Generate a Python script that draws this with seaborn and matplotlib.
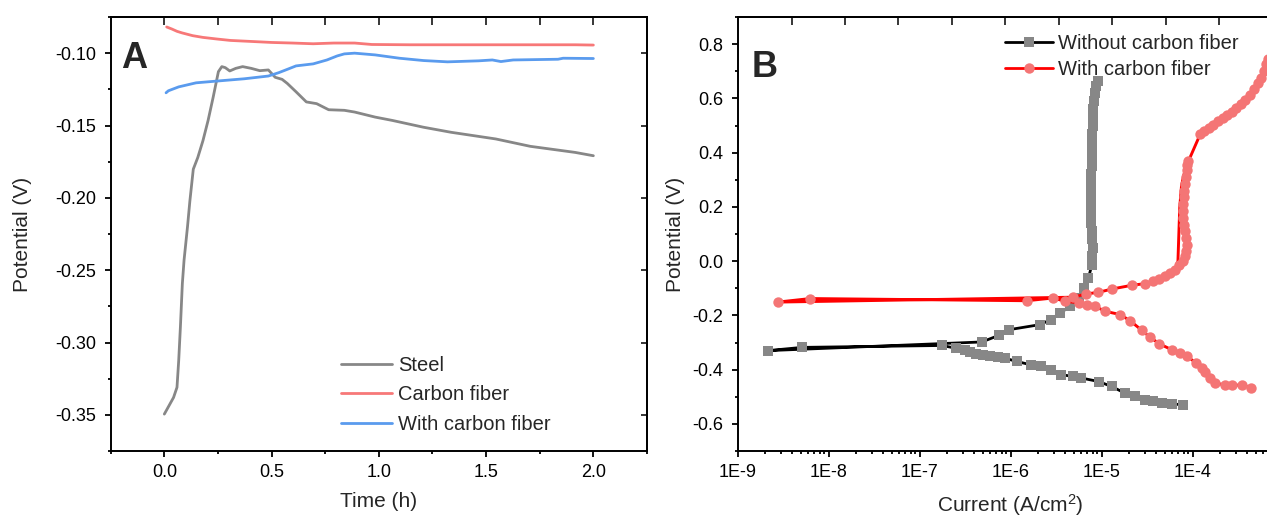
import numpy as np
import matplotlib
matplotlib.use("Agg")
import matplotlib.pyplot as plt
from matplotlib.lines import Line2D
from matplotlib.ticker import MultipleLocator, FixedLocator, LogLocator, FuncFormatter, FormatStrFormatter, NullLocator
import seaborn as sns

# ---- panel A: potential vs time ----
steel_t = [0.0, 0.043, 0.059, 0.067, 0.075, 0.084, 0.092, 0.108, 0.119, 0.135,
           0.156, 0.180, 0.204, 0.228, 0.252, 0.268, 0.284, 0.305, 0.333, 0.365,
           0.405, 0.445, 0.485, 0.517, 0.549, 0.573, 0.614, 0.662, 0.710, 0.766,
           0.839, 0.887, 0.983, 1.063, 1.208, 1.337, 1.545, 1.706, 1.915, 2.0]
steel_v = [-0.3495, -0.338, -0.331, -0.3125, -0.289, -0.2593, -0.243, -0.220, -0.2023, -0.1802,
           -0.1721, -0.1605, -0.1465, -0.1302, -0.1128, -0.1093, -0.110, -0.1123, -0.1105, -0.1093,
           -0.1105, -0.1121, -0.1116, -0.1167, -0.1181, -0.1209, -0.1267, -0.1337, -0.1349, -0.1391,
           -0.1395, -0.1407, -0.1442, -0.1465, -0.1512, -0.1547, -0.1593, -0.1644, -0.1686, -0.1709]

cf_t = [0.011, 0.035, 0.059, 0.083, 0.132, 0.180, 0.244, 0.308, 0.405, 0.501,
        0.598, 0.694, 0.790, 0.887, 0.967, 1.144, 1.304, 1.626, 1.915, 2.0]
cf_v = [-0.0819, -0.0833, -0.0849, -0.0860, -0.0879, -0.0891, -0.0902, -0.0912, -0.0919, -0.0926,
        -0.0930, -0.0935, -0.0930, -0.0930, -0.0940, -0.0942, -0.0942, -0.0942, -0.0942, -0.0944]

wcf_t = [0.008, 0.019, 0.067, 0.148, 0.260, 0.373, 0.485, 0.533, 0.573, 0.614,
         0.694, 0.758, 0.806, 0.839, 0.887, 0.983, 1.096, 1.208, 1.320, 1.465,
         1.529, 1.569, 1.626, 1.835, 1.859, 2.0]
wcf_v = [-0.1274, -0.1260, -0.1233, -0.1205, -0.1191, -0.1177, -0.1158, -0.1135, -0.1112, -0.1088,
         -0.1074, -0.1047, -0.1019, -0.1005, -0.1000, -0.1012, -0.1035, -0.1051, -0.1060, -0.1053,
         -0.1047, -0.1058, -0.1047, -0.1042, -0.1035, -0.1037]

a_labels = ["Steel", "Carbon fiber", "With carbon fiber"]

# ---- panel B: polarization curves (log10 of current density, potential) ----
without_logi = [-4.10, -4.23, -4.34, -4.43, -4.52, -4.63, -4.74, -4.89, -5.03, -5.22,
                -5.31, -5.44, -5.55, -5.67, -5.78, -5.93, -6.06, -6.14, -6.23, -6.30,
                -6.38, -6.44, -6.50, -6.60, -6.755, -8.29, -8.667, -6.315, -6.13, -6.02,
                -5.674, -5.56, -5.455, -5.344, -5.25, -5.187, -5.143, -5.106, -5.10, -5.096,
                -5.10, -5.106, -5.11, -5.115, -5.115, -5.115, -5.115, -5.112, -5.11, -5.108,
                -5.105, -5.103, -5.10, -5.10, -5.098, -5.095, -5.09, -5.085, -5.075, -5.06,
                -5.04]
without_v = [-0.530, -0.526, -0.524, -0.517, -0.511, -0.499, -0.487, -0.462, -0.444, -0.431,
             -0.425, -0.419, -0.400, -0.388, -0.382, -0.370, -0.358, -0.354, -0.350, -0.346,
             -0.341, -0.335, -0.328, -0.321, -0.311, -0.318, -0.330, -0.298, -0.274, -0.253,
             -0.234, -0.216, -0.191, -0.167, -0.136, -0.099, -0.062, -0.013, 0.020, 0.049,
             0.080, 0.110, 0.140, 0.170, 0.200, 0.230, 0.260, 0.290, 0.320, 0.350,
             0.380, 0.410, 0.440, 0.470, 0.500, 0.530, 0.560, 0.590, 0.620, 0.645,
             0.665]

with_logi = [-3.355, -3.458, -3.568, -3.64, -3.758, -3.81, -3.86, -3.898, -3.964, -4.063,
             -4.135, -4.227, -4.363, -4.465, -4.557, -4.685, -4.795, -4.959, -5.069, -5.162,
             -5.25, -5.40, -5.535, -5.82, -8.20, -8.557, -5.31, -5.17, -5.033, -4.887,
             -4.667, -4.52, -4.43, -4.37, -4.30, -4.25, -4.19, -4.145, -4.10, -4.08,
             -4.066, -4.063, -4.066, -4.08, -4.09, -4.10, -4.105, -4.10, -4.095, -4.09,
             -4.085, -4.075, -4.065, -4.055, -4.044, -3.915, -3.87, -3.82, -3.77, -3.72,
             -3.67, -3.62, -3.57, -3.52, -3.47, -3.42, -3.37, -3.32, -3.28, -3.245,
             -3.215, -3.19, -3.17]
with_v = [-0.466, -0.458, -0.456, -0.456, -0.450, -0.430, -0.407, -0.394, -0.374, -0.351,
          -0.339, -0.327, -0.305, -0.281, -0.255, -0.220, -0.197, -0.185, -0.167, -0.160,
          -0.154, -0.148, -0.136, -0.146, -0.138, -0.151, -0.133, -0.121, -0.115, -0.103,
          -0.089, -0.083, -0.074, -0.066, -0.056, -0.045, -0.031, -0.016, 0.000, 0.018,
          0.037, 0.060, 0.086, 0.110, 0.135, 0.160, 0.185, 0.210, 0.235, 0.260,
          0.285, 0.310, 0.335, 0.355, 0.369, 0.468, 0.478, 0.490, 0.503, 0.516,
          0.527, 0.538, 0.550, 0.563, 0.578, 0.595, 0.613, 0.634, 0.655, 0.676,
          0.700, 0.725, 0.745]

# the red line runs a little left of the dense marker band on the passive part
with_line_logi = with_logi[:33] + [-4.30, -4.19, -4.16, -4.15, -4.14, -4.12, -4.08, -4.044,
                                   -3.915, -3.72, -3.52, -3.32, -3.19, -3.17]
with_line_v = with_v[:33] + [-0.056, -0.031, 0.000, 0.100, 0.200, 0.280, 0.340, 0.369,
                             0.468, 0.516, 0.563, 0.634, 0.725, 0.745]

b_labels = ["Without carbon fiber", "With carbon fiber"]
b_xticks = [1e-9, 1e-8, 1e-7, 1e-6, 1e-5, 1e-4]

# colours
c_steel, c_cf, c_wcf = "#878787", "#f77878", "#5a9bee"
c_gray_mk, c_red_line, c_red_mk = "#878787", "#ff0000", "#f47575"

sns.set_theme(style="ticks")
plt.rcParams["font.family"] = ["Liberation Sans", "DejaVu Sans"]
plt.rcParams["axes.unicode_minus"] = False
plt.rcParams["mathtext.default"] = "regular"

W, H = 1267, 520
fig = plt.figure(figsize=(W / 100, H / 100), dpi=100)
axA = fig.add_axes([110.7 / W, (H - 451) / H, (647 - 110.7) / W, (451 - 17) / H])
axB = fig.add_axes([737.5 / W, (H - 451) / H, 546 / W, (451 - 17) / H])

# ---- panel A ----
sns.lineplot(x=steel_t, y=steel_v, sort=False, estimator=None, color=c_steel, lw=2.0, ax=axA)
sns.lineplot(x=cf_t, y=cf_v, sort=False, estimator=None, color=c_cf, lw=2.0, ax=axA)
sns.lineplot(x=wcf_t, y=wcf_v, sort=False, estimator=None, color=c_wcf, lw=2.0, ax=axA)

axA.set_xlim(-0.25, 2.25)
axA.set_ylim(-0.375, -0.075)
axA.xaxis.set_major_locator(MultipleLocator(0.5))
axA.xaxis.set_minor_locator(MultipleLocator(0.25))
axA.yaxis.set_major_locator(MultipleLocator(0.05))
axA.yaxis.set_minor_locator(MultipleLocator(0.025))
axA.xaxis.set_major_formatter(FormatStrFormatter("%.1f"))
axA.yaxis.set_major_formatter(FormatStrFormatter("%.2f"))

handlesA = [Line2D([], [], color=c, lw=2.0) for c in (c_steel, c_cf, c_wcf)]
axA.legend(handlesA, a_labels, loc="upper left", bbox_to_anchor=(341 / W, 1 - 356 / H),
           bbox_transform=fig.transFigure, frameon=False, fontsize=14.5, borderpad=0,
           borderaxespad=0, handlelength=2.55, handletextpad=0.3, labelspacing=0.52)

# ---- panel B ----
axB.set_xscale("log")
gx = 10 ** np.array(without_logi)
rx = 10 ** np.array(with_logi)
rlx = 10 ** np.array(with_line_logi)
sns.lineplot(x=gx, y=without_v, sort=False, estimator=None, color="black", lw=2.0, ax=axB)
sns.scatterplot(x=gx, y=without_v, marker="s", s=46, color=c_gray_mk, linewidth=0, ax=axB, zorder=3)
sns.lineplot(x=rlx, y=with_line_v, sort=False, estimator=None, color=c_red_line, lw=2.1, ax=axB, zorder=4)
sns.scatterplot(x=rx, y=with_v, marker="o", s=56, color=c_red_mk, linewidth=0, ax=axB, zorder=5)

axB.set_xlim(1e-9, 1e-3)
axB.set_ylim(-0.7, 0.9)
axB.xaxis.set_major_locator(FixedLocator(b_xticks))
axB.xaxis.set_minor_locator(LogLocator(base=10, subs=np.arange(2, 10), numticks=20))
axB.xaxis.set_major_formatter(FuncFormatter(lambda v, p: "1E%d" % round(np.log10(v))))
axB.yaxis.set_major_locator(MultipleLocator(0.2))
axB.yaxis.set_minor_locator(MultipleLocator(0.1))
axB.yaxis.set_major_formatter(FormatStrFormatter("%.1f"))

handlesB = [
    Line2D([], [], color="black", lw=2.0, marker="s", markersize=6.5,
           markerfacecolor=c_gray_mk, markeredgewidth=0),
    Line2D([], [], color=c_red_line, lw=2.0, marker="o", markersize=7.5,
           markerfacecolor=c_red_mk, markeredgewidth=0),
]
axB.legend(handlesB, b_labels, loc="upper left", bbox_to_anchor=(1005 / W, 1 - 34 / H),
           bbox_transform=fig.transFigure, frameon=False, fontsize=14.5, borderpad=0,
           borderaxespad=0, handlelength=2.4, handletextpad=0.25, labelspacing=0.35)

# ---- shared styling ----
for ax in (axA, axB):
    for sp in ax.spines.values():
        sp.set_linewidth(1.4)
        sp.set_color("black")
        sp.set_visible(True)
    ax.tick_params(which="both", direction="out", width=1.3, color="black",
                   labelsize=13, labelcolor="black")
    ax.tick_params(which="major", length=4.3)
    ax.tick_params(which="minor", length=2.4)
    ax.tick_params(axis="x", pad=5)
    ax.tick_params(axis="y", pad=6)
    ax.set_ylabel("Potential (V)", fontsize=15)

axA.set_xlabel("Time (h)", fontsize=15)
axB.set_xlabel("Current (A/cm$^2$)", fontsize=15)
axA.yaxis.set_label_coords(-0.147, 0.5)
axB.yaxis.set_label_coords(-0.096, 0.5)
axA.xaxis.set_label_coords(0.5, -0.095)
axB.xaxis.set_label_coords(0.5, -0.095)

# inward mirror ticks on top / right, no labels
topA = axA.secondary_xaxis("top")
topA.set_xticks(np.arange(0, 2.01, 0.25))
topA.tick_params(direction="in", length=5.5, width=1.3, labeltop=False)
topA.xaxis.set_minor_locator(NullLocator())
rightA = axA.secondary_yaxis("right")
rightA.set_yticks([-0.35, -0.30, -0.25, -0.20, -0.15, -0.10])
rightA.tick_params(direction="in", length=4.3, width=1.3, labelright=False)
rightA.yaxis.set_minor_locator(NullLocator())
topB = axB.secondary_xaxis("top")
topB.set_xticks([10 ** (-9 + 0.595 + 0.587 * k) for k in range(9)])
topB.tick_params(direction="in", length=5.5, width=1.3, labeltop=False)
topB.xaxis.set_minor_locator(NullLocator())
for sec in (topA, rightA, topB):
    for sp in sec.spines.values():
        sp.set_linewidth(1.4)

axA.text(121 / W, 1 - 68 / H, "A", transform=fig.transFigure, fontsize=26,
         fontweight="bold", ha="left", va="baseline")
axB.text(752 / W, 1 - 77 / H, "B", transform=fig.transFigure, fontsize=26,
         fontweight="bold", ha="left", va="baseline")

fig.savefig("out.png", dpi=100)
